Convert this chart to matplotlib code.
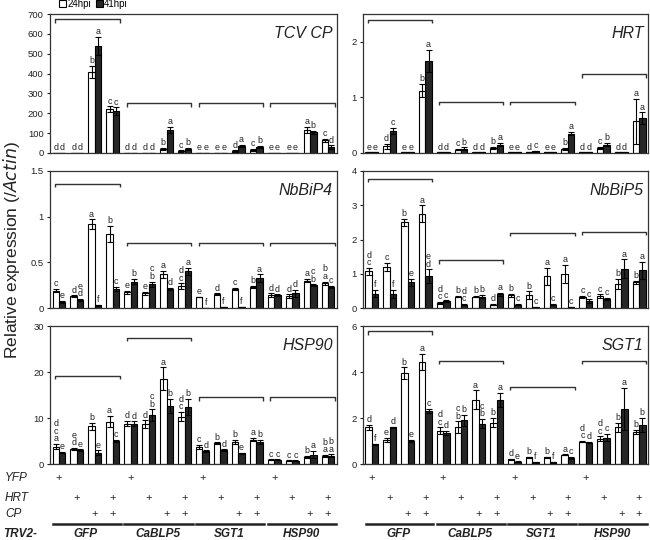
import numpy as np
import matplotlib
matplotlib.use("Agg")
import matplotlib.pyplot as plt
from matplotlib.patches import Patch
import matplotlib.transforms as mtrans

plt.rcParams['font.family'] = ['Liberation Sans', 'DejaVu Sans']

# ---------------- data ----------------
constructs = ["GFP", "CaBLP5", "SGT1", "HSP90"]
treat_rows = ["YFP", "HRT", "CP"]
yfp_on = [1, 0, 0, 0]
hrt_on = [0, 1, 0, 1]
cp_on = [0, 0, 1, 1]
series_names = ["24hpi", "41hpi"]

tcv_v24 = [2, 2, 410, 220, 2, 2, 20, 10, 2, 2, 10, 15, 2, 2, 115, 65]
tcv_v41 = [2, 2, 540, 210, 2, 2, 115, 20, 2, 2, 35, 30, 2, 2, 105, 30]
tcv_e24 = [0, 0, 30, 15, 0, 0, 5, 3, 0, 0, 3, 5, 0, 0, 15, 8]
tcv_e41 = [0, 0, 45, 20, 0, 0, 15, 5, 0, 0, 5, 5, 0, 0, 8, 8]
tcv_l24 = ['d', 'd', 'b', 'c', 'd', 'd', 'b', 'c', 'e', 'e', 'd', 'c', 'e', 'e', 'a', 'c']
tcv_l41 = ['d', 'd', 'a', 'c', 'd', 'd', 'a', 'b', 'e', 'e', 'a', 'b', 'e', 'e', 'b', 'd']
tcv_br = [673, 250, 250, 250]
tcv_ticks = [0, 100, 200, 300, 400, 500, 600, 700]

hrt_v24 = [0.01, 0.12, 0.01, 1.12, 0.01, 0.06, 0.01, 0.09, 0.01, 0.01, 0.01, 0.07, 0.01, 0.09, 0.01, 0.57]
hrt_v41 = [0.01, 0.40, 0.01, 1.65, 0.01, 0.08, 0.01, 0.15, 0.01, 0.03, 0.01, 0.35, 0.01, 0.15, 0.01, 0.63]
hrt_e24 = [0, 0.04, 0, 0.12, 0, 0.01, 0, 0.02, 0, 0, 0, 0.02, 0, 0.02, 0, 0.41]
hrt_e41 = [0, 0.05, 0, 0.2, 0, 0.02, 0, 0.03, 0, 0.01, 0, 0.03, 0, 0.03, 0, 0.1]
hrt_l24 = ['e', 'd', 'e', 'b', 'd', 'c', 'd', 'b', 'e', 'd', 'e', 'b', 'd', 'c', 'd', 'a']
hrt_l41 = ['e', 'c', 'e', 'a', 'd', 'b', 'd', 'a', 'e', 'c', 'e', 'a', 'd', 'b', 'd', 'a']
hrt_br = [2.4, 0.92, 0.92, 1.42]
hrt_ticks = [0, 1, 2]

bip4_v24 = [0.19, 0.13, 0.92, 0.81, 0.17, 0.16, 0.37, 0.24, 0.12, 0.15, 0.21, 0.23, 0.14, 0.13, 0.30, 0.27]
bip4_v41 = [0.07, 0.09, 0.03, 0.21, 0.29, 0.26, 0.21, 0.40, 0.005, 0.01, 0.01, 0.33, 0.14, 0.16, 0.25, 0.23]
bip4_e24 = [0.02, 0.01, 0.05, 0.09, 0.02, 0.02, 0.04, 0.03, 0.0, 0.01, 0.01, 0.01, 0.02, 0.02, 0.02, 0.02]
bip4_e41 = [0.01, 0.01, 0.005, 0.02, 0.03, 0.03, 0.01, 0.04, 0, 0, 0, 0.04, 0.01, 0.04, 0.01, 0.01]
bip4_l24 = ['c', 'd', 'a', 'b', 'e', 'e', 'a', 'd\nc', 'e', 'd', 'c', 'b', 'd', 'd', 'a', 'b\na']
bip4_l41 = ['e', 'e\nd', 'f', 'c', 'b', 'c\nb', 'd', 'a', 'f', 'f', 'f', 'a', 'd', 'd', 'c\nb', 'c']
bip4_br = [1.36, 0.715, 0.715, 0.715]
bip4_ticks = [0, 0.5, 1, 1.5]

bip5_v24 = [1.07, 1.2, 2.5, 2.75, 0.15, 0.33, 0.33, 0.1, 0.37, 0.37, 0.92, 1.0, 0.32, 0.35, 0.7, 0.75]
bip5_v41 = [0.42, 0.4, 0.75, 0.93, 0.2, 0.1, 0.33, 0.4, 0.1, 0.02, 0.1, 0.02, 0.2, 0.27, 1.15, 1.1]
bip5_e24 = [0.1, 0.12, 0.1, 0.25, 0.02, 0.02, 0.02, 0.02, 0.04, 0.12, 0.25, 0.27, 0.03, 0.05, 0.15, 0.05]
bip5_e41 = [0.1, 0.12, 0.1, 0.2, 0.02, 0.02, 0.05, 0.05, 0.02, 0.01, 0.02, 0.01, 0.05, 0.03, 0.27, 0.25]
bip5_l24 = ['d\nc', 'c', 'b', 'a', 'd\nc', 'b', 'b', 'd', 'b', 'b', 'a', 'a', 'c', 'c', 'b', 'b']
bip5_l41 = ['f', 'f', 'e', 'e\nd', 'c', 'd\nc', 'b', 'a', 'c', 'c', 'c', 'c', 'c', 'c', 'a', 'a']
bip5_br = [3.78, 1.39, 2.19, 2.22]
bip5_ticks = [0, 1, 2, 3, 4]

hsp_v24 = [3.8, 3.3, 8.2, 9.2, 8.8, 8.7, 18.5, 10.3, 3.7, 4.5, 4.8, 5.3, 0.9, 0.7, 1.5, 1.8]
hsp_v41 = [2.5, 3.0, 2.5, 5.0, 8.8, 10.6, 12.6, 12.4, 2.8, 3.0, 2.3, 4.8, 0.9, 0.7, 2.0, 1.8]
hsp_e24 = [0.6, 0.2, 0.8, 1.2, 0.6, 0.8, 2.5, 1.0, 0.4, 0.2, 0.5, 0.4, 0.1, 0.1, 0.3, 0.2]
hsp_e41 = [0.2, 0.2, 0.5, 0.3, 0.5, 1.3, 1.5, 1.8, 0.2, 0.2, 0.2, 0.4, 0.1, 0.1, 0.8, 0.3]
hsp_l24 = ['d\nc\na', 'e\nd', 'b', 'a', 'd', 'd', 'a', 'd\nc', 'c', 'b', 'b', 'a', 'c', 'c', 'b', 'b\na']
hsp_l41 = ['e', 'e', 'e', 'c', 'd', 'c\nb', 'b', 'b', 'd', 'd', 'e', 'b', 'c', 'c', 'a', 'b\na']
hsp_br = [19.2, 27.5, 14.5, 14.5]
hsp_ticks = [0, 10, 20, 30]

sgt_v24 = [1.6, 1.05, 3.95, 4.45, 1.45, 1.6, 2.8, 1.8, 0.2, 0.3, 0.3, 0.4, 0.97, 1.1, 1.6, 1.4]
sgt_v41 = [0.85, 1.6, 1.0, 2.3, 1.35, 1.9, 1.75, 2.8, 0.1, 0.07, 0.07, 0.27, 0.93, 1.15, 2.4, 1.7]
sgt_e24 = [0.1, 0.1, 0.25, 0.35, 0.15, 0.25, 0.4, 0.2, 0.03, 0.02, 0.02, 0.02, 0.03, 0.1, 0.2, 0.1]
sgt_e41 = [0.03, 0.03, 0.05, 0.1, 0.1, 0.25, 0.2, 0.3, 0.02, 0.01, 0.01, 0.05, 0.03, 0.15, 0.9, 0.3]
sgt_l24 = ['d', 'e', 'b', 'a', 'd\nc', 'c\nb', 'a', 'b', 'd', 'b', 'b', 'a', 'd\nc', 'd\nc', 'b', 'b']
sgt_l41 = ['f', 'd', 'e', 'c', 'd', 'b', 'c\nb', 'a', 'e', 'f', 'f', 'c', 'd', 'c', 'a', 'b']
sgt_br = [5.78, 4.48, 3.35, 4.48]
sgt_ticks = [0, 2, 4, 6]

panels = [
    ("TCV CP", tcv_v24, tcv_v41, tcv_e24, tcv_e41, tcv_l24, tcv_l41, tcv_br, tcv_ticks, 700),
    ("HRT", hrt_v24, hrt_v41, hrt_e24, hrt_e41, hrt_l24, hrt_l41, hrt_br, hrt_ticks, 2.5),
    ("NbBiP4", bip4_v24, bip4_v41, bip4_e24, bip4_e41, bip4_l24, bip4_l41, bip4_br, bip4_ticks, 1.5),
    ("NbBiP5", bip5_v24, bip5_v41, bip5_e24, bip5_e41, bip5_l24, bip5_l41, bip5_br, bip5_ticks, 4),
    ("HSP90", hsp_v24, hsp_v41, hsp_e24, hsp_e41, hsp_l24, hsp_l41, hsp_br, hsp_ticks, 30),
    ("SGT1", sgt_v24, sgt_v41, sgt_e24, sgt_e41, sgt_l24, sgt_l41, sgt_br, sgt_ticks, 6),
]

# ---------------- layout ----------------
W, H = 650, 540
fig = plt.figure(figsize=(W / 100, H / 100), dpi=100)

cols = [(50, 337), (363, 648)]
rows = [(14, 153), (171, 308), (326, 464)]

def frac(x0, x1, y0, y1):
    return [x0 / W, 1 - y1 / H, (x1 - x0) / W, (y1 - y0) / H]

DARK = '#262626'
bw = 0.36
axes = []
for i, p in enumerate(panels):
    title, v24, v41, e24, e41, l24, l41, br, ticks, ymax = p
    r, c = divmod(i, 2)
    ax = fig.add_axes(frac(cols[c][0], cols[c][1], rows[r][0], rows[r][1]))
    axes.append(ax)
    x = np.arange(len(v24))
    ekw = dict(ecolor='black', elinewidth=0.8, capsize=2.2, capthick=0.8)
    ax.bar(x - bw / 2, v24, bw, color='white', edgecolor='black', linewidth=0.8,
           yerr=e24, error_kw=ekw, zorder=2)
    ax.bar(x + bw / 2, v41, bw, color=DARK, edgecolor='black', linewidth=0.8,
           yerr=e41, error_kw=ekw, zorder=2)
    for xi, v, e, l in zip(x - bw / 2, v24, e24, l24):
        ax.annotate(l, (xi, v + e), xytext=(0, 0.5), textcoords='offset points',
                    ha='center', va='bottom', fontsize=6.4, linespacing=0.78, color='#222222')
    for xi, v, e, l in zip(x + bw / 2, v41, e41, l41):
        ax.annotate(l, (xi, v + e), xytext=(0, 0.5), textcoords='offset points',
                    ha='center', va='bottom', fontsize=6.4, linespacing=0.78, color='#222222')
    # brackets
    tl = 0.025 * ymax
    for k, yb in enumerate(br):
        xs, xe = 4 * k - 0.22, 4 * k + 3.38
        ax.plot([xs, xs, xe, xe], [yb - tl, yb, yb, yb - tl], color='#333333', lw=1.0,
                solid_capstyle='butt', zorder=3)
    ax.set_xlim(-0.5, 15.5)
    ax.set_ylim(0, ymax)
    ax.set_yticks(ticks)
    ax.set_yticklabels([('%g' % t) for t in ticks])
    ax.set_xticks([])
    ax.tick_params(axis='y', labelsize=6.8, length=2, width=0.8, pad=2.5, colors='#222222')
    for s in ax.spines.values():
        s.set_linewidth(0.9)
        s.set_color('#333333')
    ax.text(0.985, 0.86, title, transform=ax.transAxes, ha='right', va='center',
            fontsize=11.5, style='italic', color='#222222')

# y label
fig.text(12 / W, 1 - 250 / H, 'Relative expression (/$\\mathit{Actin}$)', rotation=90,
         ha='center', va='center', fontsize=12.5, color='#222222')

# legend
fig.legend(handles=[Patch(facecolor='white', edgecolor='black', linewidth=0.8, label=series_names[0]),
                    Patch(facecolor=DARK, edgecolor='black', linewidth=0.8, label=series_names[1])],
           loc='upper left', bbox_to_anchor=(57 / W, 1.0 + 3 / H), ncol=2, frameon=False,
           fontsize=7, handlelength=0.7, handleheight=0.7, handletextpad=0.15,
           columnspacing=0.5, borderpad=0.2, borderaxespad=0)

# treatment table
row_y = {"YFP": 478, "HRT": 498, "CP": 514}
flags = {"YFP": yfp_on, "HRT": hrt_on, "CP": cp_on}
for name in treat_rows:
    fig.text(5 / W, 1 - row_y[name] / H, name, ha='left', va='center', fontsize=8.5,
             style='italic', color='#222222')
fig.text(3 / W, 1 - 534 / H, 'TRV2-', ha='left', va='center', fontsize=8.5,
         style='italic', weight='bold', color='#222222')

for c in range(2):
    ax = axes[4 + c]
    tr = mtrans.blended_transform_factory(ax.transData, fig.transFigure)
    for name in treat_rows:
        for k in range(4):
            for j in range(4):
                if flags[name][j]:
                    fig.text(4 * k + j, 1 - row_y[name] / H, '+', transform=tr,
                             ha='center', va='center', fontsize=8, color='#222222')
    for k, cname in enumerate(constructs):
        fig.lines.append(plt.Line2D([4 * k - 0.35, 4 * k + 3.45], [1 - 524 / H, 1 - 524 / H],
                                    transform=tr, color='#222222', lw=1.8))
        fig.text(4 * k + 1.5, 1 - 534 / H, cname, transform=tr, ha='center', va='center',
                 fontsize=8.5, style='italic', weight='bold', color='#222222')

fig.savefig('out.png', dpi=100)
